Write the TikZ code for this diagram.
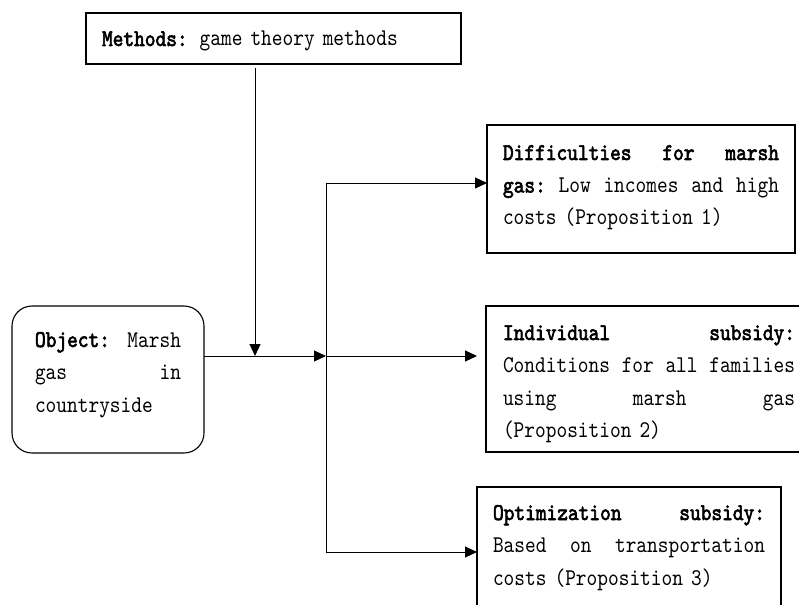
\documentclass[tikz,border=0pt]{standalone}
\usepackage{fontspec}
\usetikzlibrary{arrows.meta}
\newfontfamily\boxfont{lmmono10}[Extension=.otf,UprightFont=*-regular,BoldFont=*-regular,
  BoldFeatures={FakeBold=2.5},FakeStretch=0.85]

\begin{document}
\begin{tikzpicture}[x=1pt,y=-1pt]
      \clip (0,0) rectangle (799,604);
      \begin{scope}[every node/.style={draw,line width=1.1pt,anchor=north west,align=left,inner ysep=0pt,outer sep=0pt,
          font=\boxfont\fontsize{24}{32.5}\selectfont}]
        \node[text width=343pt,inner xsep=16pt,text height=33pt,text depth=18pt] (meth) at (86,13)
          {\textbf{Methods:} game theory methods};
        \node[rounded corners=20pt,text width=146pt,inner xsep=23pt,text height=41pt,text depth=106pt] (obj) at (12,306)
          {\textbf{Object:} \hfill Marsh\\ gas\hfill in\\ countryside};
        \node[text width=276pt,inner xsep=16pt,text height=35pt,text depth=93pt] (diff) at (487,125)
          {\textbf{Difficulties}\hfill\textbf{for}\hfill\textbf{marsh}\\
           \textbf{gas:}\hfill Low\hfill incomes\hfill and\hfill high\\
           costs (Proposition 1)};
        \node[text width=292pt,inner xsep=17pt,text height=34pt,text depth=112pt] (indiv) at (486,306)
          {\textbf{Individual}\hfill\textbf{subsidy:}\\
           Conditions\hfill for\hfill all\hfill families\\
           using\hfill marsh\hfill gas\\
           (Proposition 2)};
        \node[text width=272pt,inner xsep=16pt,text height=33pt,text depth=140pt] (optim) at (477,487)
          {\textbf{Optimization}\hfill\textbf{subsidy:}\\
           Based\hfill on\hfill transportation\\
           costs (Proposition 3)};
      \end{scope}
      \coordinate (mj) at (255,356);
      \coordinate (jm) at (326,356);
      \coordinate (j1) at (326,183);
      \coordinate (j3) at (326,552);
      \begin{scope}[every edge/.style={draw,line width=1pt,-{Triangle[length=12pt,width=11pt]}}]
        \path (meth.south -| mj) edge[shorten <=4pt] (mj);
        \path (obj.east |- jm) edge (jm);
        \path (j1) edge[-] (j3);
        \path (j1) edge (diff.west |- j1);
        \path (jm) edge[shorten >=9pt] (indiv.west |- jm);
        \path (j3) edge (optim.west |- j3);
      \end{scope}
    \end{tikzpicture}
\end{document}
